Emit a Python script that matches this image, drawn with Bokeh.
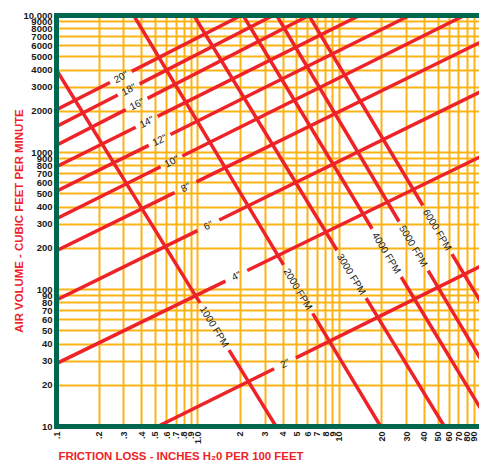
import math
from bokeh.plotting import figure
from bokeh.models import FixedTicker, CustomJSTickFormatter, LogAxis, Title
from bokeh.core.properties import value
from bokeh.embed import file_html
from bokeh.resources import INLINE

# ---------------- data ----------------
x_ticks = [0.1, 0.2, 0.3, 0.4, 0.5, 0.6, 0.7, 0.8, 0.9,
           1, 2, 3, 4, 5, 6, 7, 8, 9,
           10, 20, 30, 40, 50, 60, 70, 80, 90]
x_tick_labels = [".1", ".2", ".3", ".4", ".5", ".6", ".7", ".8", ".9",
                 "1.0", "2", "3", "4", "5", "6", "7", "8", "9",
                 "10", "20", "30", "40", "50", "60", "70", "80", "90"]
y_ticks = [10, 20, 30, 40, 50, 60, 70, 80, 90,
           100, 200, 300, 400, 500, 600, 700, 800, 900,
           1000, 2000, 3000, 4000, 5000, 6000, 7000, 8000, 9000, 10000]
y_tick_labels = ["10", "20", "30", "40", "50", "60", "70", "80", "90",
                 "100", "200", "300", "400", "500", "600", "700", "800", "900",
                 "1000", "2000", "3000", "4000", "5000", "6000", "7000", "8000", "9000", "10,000"]

# duct diameter lines (friction, cfm) start -> end, and label position (friction)
diam_labels = ['20"', '18"', '16"', '14"', '12"', '10"', '8"', '6"', '4"', '2"']
diam_x0 = [0.1, 0.1, 0.1, 0.1, 0.1, 0.1, 0.1, 0.1, 0.1, 0.519]
diam_y0 = [2050, 1550, 1130, 787, 521, 329, 192, 84, 28.8, 10]
diam_x1 = [2.02, 3.40, 6.10, 13.9, 31.4, 76.5, 100, 100, 100, 100]
diam_y1 = [10000, 10000, 10000, 10000, 10000, 10000, 6400, 2780, 934, 148]
diam_label_x = [0.285, 0.324, 0.369, 0.434, 0.536, 0.650, 0.817, 1.186, 1.87, 4.13]

# air velocity lines
vel_labels = ["1000 FPM", "2000 FPM", "3000 FPM", "4000 FPM", "5000 FPM", "6000 FPM"]
vel_x0 = [0.1, 0.352, 0.937, 2.09, 3.61, 6.10]
vel_y0 = [4000, 10000, 10000, 10000, 10000, 10000]
vel_x1 = [3.57, 19.6, 55.3, 100, 100, 100]
vel_y1 = [10, 10, 10, 13.5, 31, 81]
vel_label_x = [1.31, 5.11, 12.2, 21.6, 33.5, 49.4]

x_title = "FRICTION LOSS - INCHES H\u20820 PER 100 FEET"
y_title = "AIR VOLUME - CUBIC FEET PER MINUTE"

# ---------------- style ----------------
GREEN = "#00664E"
YELLOW = "#FCB316"
RED = "#EE2328"
W, H = 479, 464
ML, MR, MT, MB = 56, 0, 15, 38
XMIN, XMAX = 0.1, 98
YMIN, YMAX = 10, 10000
FW, FH = W - ML - MR, H - MT - MB
PX = FW / math.log10(XMAX / XMIN)
PY = FH / math.log10(YMAX / YMIN)
TITLE_FONT = "Liberation Sans"

p = figure(width=W, height=H, x_axis_type="log", y_axis_type="log",
           x_range=(XMIN, XMAX), y_range=(YMIN, YMAX),
           output_backend="svg", toolbar_location=None,
           min_border_left=ML, min_border_right=MR,
           min_border_top=MT, min_border_bottom=MB)
p.outline_line_color = None
p.background_fill_color = "white"
p.border_fill_color = "white"

fmt_code = """
const lt = Math.log10(tick);
for (let i = 0; i < tvals.length; i++) {
  if (Math.abs(Math.log10(tvals[i]) - lt) < 1e-6) return tlabs[i];
}
return "";
"""
p.xaxis.ticker = FixedTicker(ticks=x_ticks)
p.yaxis.ticker = FixedTicker(ticks=y_ticks)
p.xaxis.formatter = CustomJSTickFormatter(args=dict(tvals=x_ticks, tlabs=x_tick_labels), code=fmt_code)
p.yaxis.formatter = CustomJSTickFormatter(args=dict(tvals=y_ticks, tlabs=y_tick_labels), code=fmt_code)

for ax in (p.xaxis[0], p.yaxis[0]):
    ax.axis_line_color = GREEN
    ax.axis_line_width = 5
    ax.axis_line_cap = "square"
    ax.major_tick_line_color = None
    ax.minor_tick_line_color = None
    ax.major_tick_out = 0
    ax.major_tick_in = 0
    ax.major_label_text_font = "Liberation Sans"
    ax.major_label_text_font_style = "bold"
    ax.major_label_text_color = "#1a1a1a"
p.yaxis.major_label_text_font_size = "9.5px"
p.xaxis.major_label_text_font_size = "9px"
p.yaxis.major_label_standoff = 4
p.xaxis.major_label_standoff = 5
p.xaxis.major_label_orientation = math.pi / 2

p.yaxis.axis_label = y_title
p.yaxis.axis_label_standoff = -5
p.yaxis.axis_label_text_font = TITLE_FONT
p.yaxis.axis_label_text_font_style = "bold"
p.yaxis.axis_label_text_font_size = "11.4px"
p.yaxis.axis_label_text_color = RED

top_axis = LogAxis(ticker=FixedTicker(ticks=[]), axis_line_color=GREEN, axis_line_width=5,
                   axis_line_cap="square", major_tick_line_color=None, minor_tick_line_color=None,
                   major_label_text_font_size="0px", major_tick_out=0, major_tick_in=0)
p.add_layout(top_axis, "above")

p.add_layout(Title(text=x_title, align="left", offset=2, standoff=0,
                   text_font=TITLE_FONT, text_font_style="bold", text_font_size="11.4px",
                   text_color=RED), "below")

p.xgrid.grid_line_color = YELLOW
p.ygrid.grid_line_color = YELLOW
p.xgrid.grid_line_width = 2
p.ygrid.grid_line_width = 2


def pieces(x0, y0, x1, y1, xl, half):
    lx0, ly0, lx1, ly1 = (math.log10(v) for v in (x0, y0, x1, y1))
    s = (ly1 - ly0) / (lx1 - lx0)
    lxl = math.log10(xl)
    f = lambda lx: 10 ** (ly0 + s * (lx - lx0))
    a, b = lxl - half, lxl + half
    xs = [[x0, 10 ** a], [10 ** b, x1]]
    ys = [[y0, f(a)], [f(b), y1]]
    return xs, ys, f(lxl), s


line_xs, line_ys = [], []
lab_x, lab_y, lab_t, lab_a = [], [], [], []
for i, t in enumerate(diam_labels):
    xs, ys, yl, s = pieces(diam_x0[i], diam_y0[i], diam_x1[i], diam_y1[i], diam_label_x[i], 0.077)
    line_xs += xs
    line_ys += ys
    lab_x.append(diam_label_x[i]); lab_y.append(yl); lab_t.append(t)
    lab_a.append(math.atan(s * PY / PX))
for i, t in enumerate(vel_labels):
    xs, ys, yl, s = pieces(vel_x0[i], vel_y0[i], vel_x1[i], vel_y1[i], vel_label_x[i], 0.103)
    line_xs += xs
    line_ys += ys
    lab_x.append(vel_label_x[i]); lab_y.append(yl); lab_t.append(t)
    lab_a.append(math.atan(s * PY / PX))

p.multi_line(line_xs, line_ys, line_color=RED, line_width=3.5)
p.text(x=lab_x, y=lab_y, text=lab_t, angle=lab_a,
       text_align="center", text_baseline="middle",
       text_font=value("Liberation Sans"), text_font_size="10px", text_color="#1a1a1a")

open("out.html", "w").write(file_html(p, INLINE))
